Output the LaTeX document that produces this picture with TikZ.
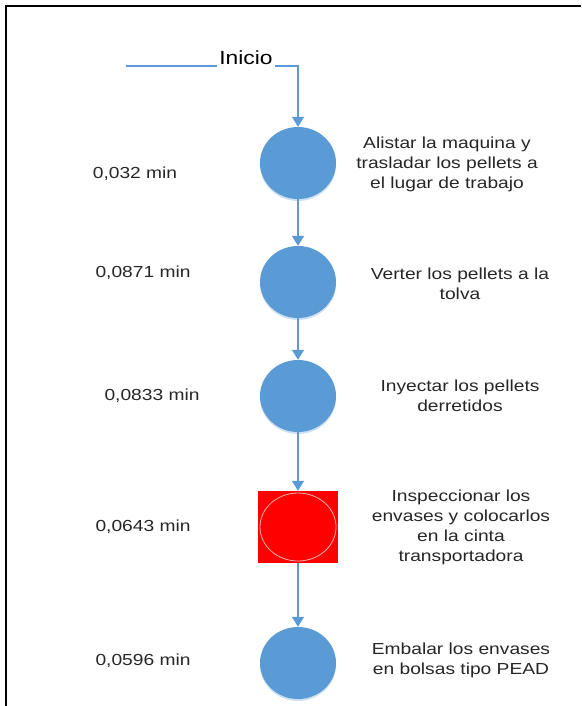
\documentclass[tikz,border=0pt]{standalone}
\usepackage{fontspec}
\setmainfont{Liberation Sans}[FakeStretch=1.2]
\usetikzlibrary{arrows.meta,shapes.geometric,shadows}
\definecolor{procblue}{RGB}{91,155,213}
\definecolor{rimpink}{RGB}{238,178,178}

\begin{document}
\begin{tikzpicture}[
    x=1pt, y=-1pt,
    proc circle/.style={
        ellipse,
        fill=procblue,
        minimum width=76pt,
        minimum height=72pt,
        inner sep=0pt,
        drop shadow={shadow xshift=0pt, shadow yshift=-2pt,
            fill=procblue, opacity=0.3}
    },
    insp box/.style={
        rectangle,
        fill=red,
        minimum width=80pt,
        minimum height=72pt,
        inner sep=0pt
    },
    insp ring/.style={
        ellipse,
        draw=rimpink,
        line width=0.8pt,
        minimum width=76pt,
        minimum height=68pt,
        inner sep=0pt
    },
    step text/.style={
        font=\fontsize{16}{20}\selectfont,
        align=center,
        text=black!85
    },
    time text/.style={
        font=\fontsize{16}{20}\selectfont,
        text=black!85
    },
    flow/.style={
        -{Triangle[width=12pt,length=10pt]},
        draw=procblue,
        line width=1.6pt
    }
]
    \useasboundingbox (0,0) rectangle (581,706);

    % Rahmen (nur oben und links)
    \draw[line width=2.5pt] (581,6) -- (6,6) -- (6,706);

    % Start
    \node[font=\fontsize{19}{22}\selectfont, inner xsep=2pt, inner ysep=1.5pt,
        anchor=south] (inicio) at (246,66) {Inicio};
    \coordinate (start) at (126,66);

    % Operationen
    \foreach \name/\ypos in {alistar/163,verter/282,inyectar/396,embalar/663} {
        \node[proc circle] (\name) at (298,\ypos) {};
    }
    \node[insp box] (inspeccion) at (298,527) {};
    \node[insp ring] (inspring) at (inspeccion.center) {};

    % Zeiten links
    \foreach \tname/\xpos/\ypos/\tval in {
        talistar/135/174/{0,032 min},
        tverter/143/273/{0,0871 min},
        tinyectar/152/396/{0,0833 min},
        tinspeccion/143/527/{0,0643 min},
        tembalar/143/661/{0,0596 min}} {
        \node[time text] (\tname) at (\xpos,\ypos) {\tval};
    }

    % Beschreibungen rechts
    \node[step text] (dalistar) at (447,164)
        {Alistar la maquina y\\trasladar los pellets a\\el lugar de trabajo};
    \node[step text] (dverter) at (460,284)
        {Verter los pellets a la\\tolva};
    \node[step text] (dinyectar) at (460,396)
        {Inyectar los pellets\\derretidos};
    \node[step text] (dinspeccion) at (461,527)
        {Inspeccionar los\\envases y colocarlos\\en la cinta\\transportadora};
    \node[step text] (dembalar) at (461,660)
        {Embalar los envases\\en bolsas tipo PEAD};

    % Fluss
    \draw[draw=procblue, line width=1.6pt] (start) -- (inicio.south west);
    \draw[flow] (inicio.south east) -| (alistar.north);
    \draw[flow] (alistar) -- (verter);
    \draw[flow] (verter) -- (inyectar);
    \draw[flow] (inyectar) -- (inspeccion);
    \draw[flow] (inspeccion) -- (embalar);
\end{tikzpicture}
\end{document}
